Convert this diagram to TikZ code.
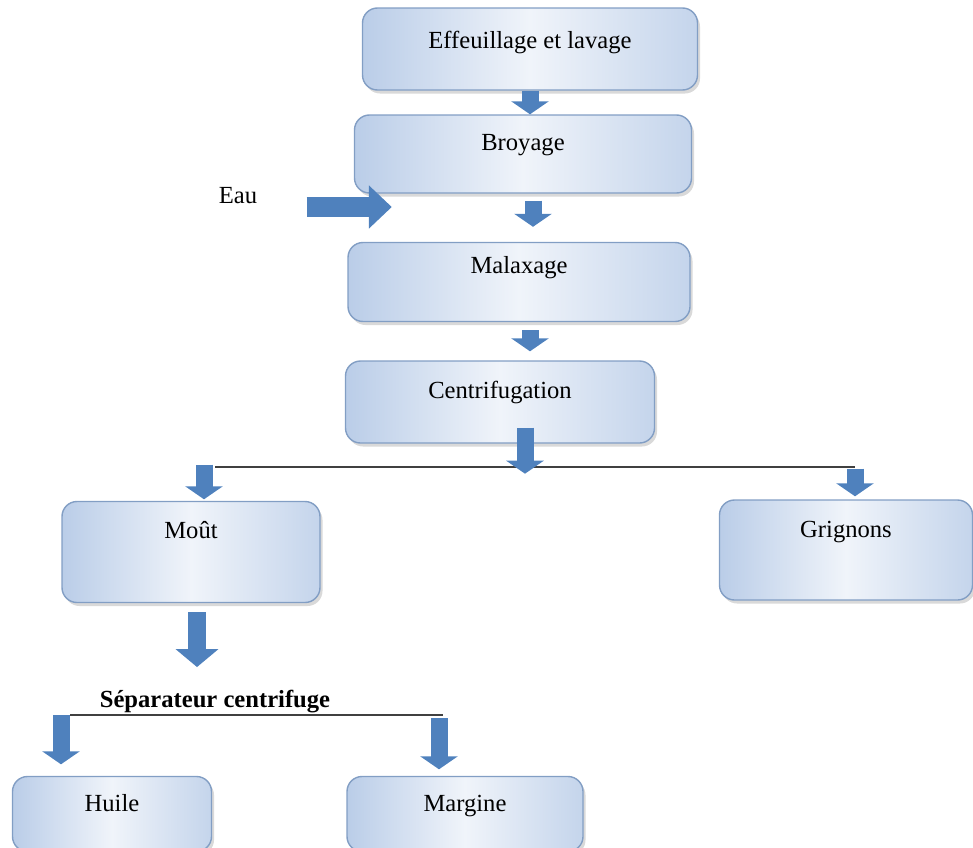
\documentclass[tikz,border=0pt]{standalone}
\usepackage{fontspec}
\setmainfont{Liberation Serif}
\usetikzlibrary{arrows.meta,calc,shadows}

\definecolor{arrowblue}{RGB}{79,129,189}
\definecolor{boxedge}{RGB}{130,158,196}
\definecolor{boxlight}{RGB}{186,205,232}
\definecolor{boxwhite}{RGB}{240,244,250}

\begin{document}
\begin{tikzpicture}[node distance=2.4cm, thick,
    stage node/.style={rounded corners=0.3cm, draw=boxedge, line width=0.8pt,
        left color=boxlight, right color=boxlight!85, middle color=boxwhite,
        drop shadow={opacity=0.3, shadow xshift=0.05cm, shadow yshift=-0.07cm},
        inner sep=0.1cm, text height=0.4cm, font=\fontsize{14}{17}\selectfont},
    lift/.style={text depth=#1},
    flow/.style={draw=arrowblue, line width=0.34cm, -{Triangle[width=0.74cm,length=0.26cm]}},
    bigflow/.style={draw=arrowblue, line width=0.36cm, -{Triangle[width=0.84cm,length=0.36cm]}},
    sideflow/.style={draw=arrowblue, line width=0.4cm, -{Triangle[width=0.84cm,length=0.46cm]}},
    split/.style={draw=black!75, line width=1pt}]

    \useasboundingbox (0,0) rectangle (19.46,-16.94);

    \node[stage node, minimum width=6.7cm, minimum height=1.64cm, lift=0.44cm] (1) at (10.6,-0.98) {Effeuillage et lavage};
    \node[stage node, minimum width=6.74cm, minimum height=1.56cm, lift=0.56cm] (2) [below of = 1, xshift=-0.14cm, yshift=0.3cm] {Broyage};
    \node[stage node, minimum width=6.84cm, minimum height=1.58cm, lift=0.76cm] (3) [below of = 2, xshift=-0.08cm, yshift=-0.16cm] {Malaxage};
    \node[stage node, minimum width=6.18cm, minimum height=1.64cm, lift=0.56cm] (4) [below of = 3, xshift=-0.38cm] {Centrifugation};
    \node[stage node, minimum width=5.16cm, minimum height=2.02cm, lift=0.96cm] (5) [below of = 4, xshift=-6.18cm, yshift=-0.6cm] {Moût};
    \node[stage node, minimum width=5.06cm, minimum height=2.0cm, lift=0.92cm] (6) [below of = 4, xshift=6.92cm, yshift=-0.56cm] {Grignons};
    \node[stage node, minimum width=3.98cm, minimum height=1.5cm, lift=0.52cm] (7) [below of = 5, xshift=-1.58cm, yshift=-2.84cm] {Huile};
    \node[stage node, minimum width=4.72cm, minimum height=1.5cm, lift=0.52cm] (8) [right of = 7, xshift=4.66cm] {Margine};

    \node[font=\fontsize{14}{17}\selectfont] (eau) [left of = 2, xshift=-3.3cm, yshift=-0.84cm] {Eau};
    \node[font=\bfseries\fontsize{14}{17}\selectfont] (sep) [below of = 5, xshift=0.48cm, yshift=-0.6cm] {Séparateur centrifuge};

    % split lines
    \coordinate (hl) at ($(5.north |- 4.south)+(0.48,-0.46)$);
    \coordinate (hr) at ($(6.north |- 4.south)+(0.18,-0.46)$);
    \coordinate (sl) at ($(sep.center)+(-2.9,-0.26)$);
    \coordinate (sr) at ($(sep.center)+(4.56,-0.26)$);
    \draw[split] (hl) -- (hr);
    \draw[split] (sl) -- (sr);

    % arrow feet
    \coordinate (a2) at ($(2.south)+(0.2,0)$);
    \coordinate (a3) at ($(3.south)+(0.22,0)$);
    \coordinate (a4) at ($(4.south)+(0.5,0.32)$);
    \coordinate (a5) at ($(5.south)+(0.12,0)$);
    \coordinate (b5) at ($(hl)+(-0.22,0.04)$);
    \coordinate (b7) at ($(sl)+(-0.18,0)$);
    \coordinate (b8) at ($(sr)+(-0.08,-0.06)$);
    \coordinate (w) at ($(2.west |- eau)+(0.76,-0.22)$);

    \draw[flow] (1.south) -- (1.south |- 2.north);
    \draw[flow, shorten <=0.14cm, shorten >=0.3cm] (a2) -- (a2 |- 3.north);
    \draw[flow, shorten <=0.16cm, shorten >=0.18cm] (a3) -- (a3 |- 4.north);
    \draw[flow, shorten >=-0.14cm] (a4) -- (a4 |- hl);
    \draw[flow, shorten >=0.03cm] (b5) -- (b5 |- 5.north);
    \draw[flow, shorten <=0.04cm, shorten >=0.06cm] (hr) -- (hr |- 6.north);
    \draw[bigflow, shorten <=0.18cm, shorten >=0.34cm] (a5) -- (a5 |- sep.north);
    \draw[flow, shorten >=0.23cm] (b7) -- (b7 |- 7.north);
    \draw[flow, shorten >=0.13cm] (b8) -- (b8 |- 8.north);
    \draw[sideflow, shorten <=0.86cm] (eau.east |- w) -- (w);
\end{tikzpicture}
\end{document}
